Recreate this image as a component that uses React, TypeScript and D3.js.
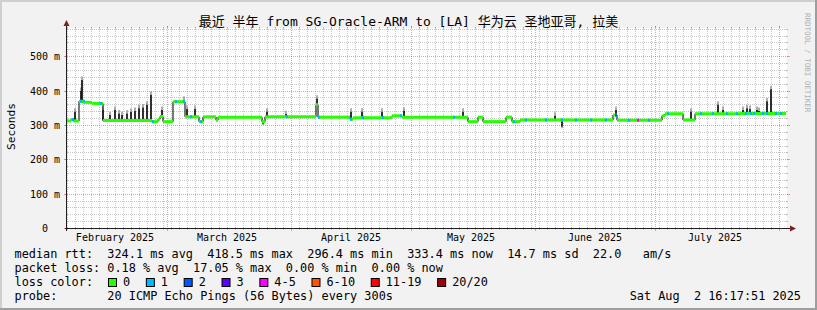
import React from 'react';
import * as d3 from 'd3';

const W = 817;
const H = 310;
const DAY = 86400000;
const START = Date.UTC(2025, 1, 4);
const END = Date.UTC(2025, 7, 3);

const titleText = '最近 半年 from SG-Oracle-ARM to [LA] 华为云 圣地亚哥, 拉美';
const yLabel = 'Seconds';
const watermark = 'RRDTOOL / TOBI OETIKER';

// median rtt (ms) as steps: day offset from START -> value
const segDays = [0, 1, 1.5, 3, 4.25, 6.25, 9, 21.25, 22.75, 23.25, 24, 26.5, 29.5, 33, 34, 37.25, 37.75, 48.75, 49.5, 62.25, 62.75, 70.75, 71.5, 81.25, 83.75, 100.25, 102.75, 104, 109.75, 111.25, 113.25, 136.5, 137.5, 148.75, 149.5, 154, 157, 168.25];
const segValues = [313, 317, 313, 370, 367, 364, 314, 311, 318, 326, 311, 369, 325, 311, 325, 315, 324, 311, 325, 360, 324, 318, 322, 328, 324, 311, 324, 311, 324, 311, 316, 330, 315, 328, 334, 316, 334, 335];
const lastDay = 179.75;

// smoke spikes: day offset -> extreme rtt (ms)
const spikeDays = [2, 3.5, 3.75, 9, 10.75, 12, 13, 13.75, 15, 16, 17, 18, 19, 20, 21, 23.75, 29.25, 30, 32, 49, 50, 54.75, 62.5, 71, 73.75, 78.75, 84.25, 99, 122, 123.75, 137.25, 156, 162.75, 164, 169, 170, 170.75, 172.5, 173, 175, 176];
const spikeTops = [340, 400, 432, 345, 330, 345, 335, 330, 335, 339, 342, 350, 352, 360, 389, 345, 375, 348, 348, 305, 340, 333, 378, 340, 340, 340, 343, 340, 328, 296, 345, 340, 360, 345, 345, 350, 348, 345, 342, 370, 405];

// packet loss occurrences: day offset -> loss color index
const lossDays = [1.25, 3.25, 4, 8.25, 21.25, 27, 29, 30.75, 33.25, 54.75, 62.75, 70.75, 73.75, 78.75, 83.25, 96.5, 111.5, 114.5, 119.5, 123.5, 127, 130.75, 134.5, 137, 140.25, 142.5, 145.25, 150, 158.25, 161.25, 164.75, 167.25, 169.5, 170.75, 171.5, 173.75, 174.75, 177, 178.25];
const lossLevels = [1, 1, 1, 1, 1, 1, 1, 1, 1, 1, 1, 1, 1, 1, 1, 1, 1, 1, 1, 1, 1, 1, 1, 2, 1, 4, 1, 1, 1, 1, 1, 1, 1, 1, 1, 1, 1, 1, 1];

const lossLabels = ['0', '1', '2', '3', '4-5', '6-10', '11-19', '20/20'];
const lossColors = ['#26ff00', '#00b8ff', '#0059ff', '#5e00ff', '#ff00ff', '#ff5500', '#ff0000', '#a00000'];

const yTicks = [0, 100, 200, 300, 400, 500];
const statLines = [
  'median rtt:  324.1 ms avg  418.5 ms max  296.4 ms min  333.4 ms now  14.7 ms sd  22.0   am/s',
  'packet loss: 0.18 % avg  17.05 % max  0.00 % min  0.00 % now',
];
const lossTitle = 'loss color:';
const probeText = 'probe:       20 ICMP Echo Pings (56 Bytes) every 300s';
const dateText = 'Sat Aug  2 16:17:51 2025';

const MONO = '"DejaVu Sans Mono", "Noto Sans CJK SC", monospace';
const PRE: React.CSSProperties = { whiteSpace: 'pre' };

export default function App() {
  const X0 = 67, X1 = 787, Y0 = 228, Y1 = 28;
  const x = d3.scaleUtc().domain([new Date(START), new Date(END)]).range([X0, X1]);
  const y = d3.scaleLinear().domain([0, 582]).range([228.5, 28.5]);
  const xd = (d: number) => x(new Date(START + d * DAY));
  const medianAt = (d: number) => {
    const i = d3.bisectRight(segDays, d) - 1;
    return segValues[Math.max(0, i)];
  };

  const gridColor = 'rgba(143,143,143,0.5)';
  const mgridColor = 'rgba(222,79,79,0.55)';

  const hMinor = d3.range(0, 581, 20).filter((v) => v % 100 !== 0);
  const hMajor = d3.range(0, 581, 100);
  const vMajor = d3.utcMonth.range(new Date(START), new Date(END));
  const majorMs = new Set(vMajor.map((t) => t.getTime()));
  const vMinor = d3.utcDay.range(new Date(START), new Date(END + 1), 2).filter((t) => !majorMs.has(t.getTime()));
  const monthStarts = d3.utcMonth.range(new Date(Date.UTC(2025, 1, 1)), new Date(END));

  const cs = 7.14;
  const lx = 14.5;
  let cursor = 108;
  const boxes = lossLabels.map((lab, i) => {
    const bx = cursor;
    const tx = bx + 15;
    cursor = tx + lab.length * cs + 15.7;
    return { bx, tx, lab, col: lossColors[i] };
  });

  return (
    <div style={{ position: 'absolute', left: 0, top: 0 }}>
      <svg width={W} height={H} style={{ display: 'block' }}>
        <rect x={0} y={0} width={W} height={H} fill="#f2f2f2" />
        <rect x={0} y={0} width={W} height={2} fill="#cfcfcf" />
        <rect x={0} y={0} width={2} height={H} fill="#cfcfcf" />
        <rect x={0} y={H - 2} width={W} height={2} fill="#9e9e9e" />
        <rect x={W - 2} y={0} width={2} height={H} fill="#9e9e9e" />
        <rect x={X0} y={Y1} width={X1 - X0} height={Y0 - Y1 + 1} fill="#ffffff" />

        {vMinor.map((t, i) => {
          const px = Math.round(x(t)) + 0.5;
          if (px < X0 || px > X1) return null;
          return (
            <g key={'vm' + i} stroke={gridColor} strokeWidth={1}>
              <line x1={px} x2={px} y1={Y1 - 1} y2={Y0 + 1} strokeDasharray="1,1" />
              <line x1={px} x2={px} y1={Y0 - 1} y2={Y0 + 2} />
              <line x1={px} x2={px} y1={Y1 - 1} y2={Y1 + 1} />
            </g>
          );
        })}
        {hMinor.map((v) => {
          const py = Math.round(y(v) - 0.5) + 0.5;
          return (
            <g key={'hm' + v} stroke={gridColor} strokeWidth={1}>
              <line x1={X0 - 1} x2={X1 + 1} y1={py} y2={py} strokeDasharray="1,1" />
              <line x1={X0 - 1} x2={X0 + 1} y1={py} y2={py} />
              <line x1={X1 - 1} x2={X1 + 1} y1={py} y2={py} />
            </g>
          );
        })}
        {vMajor.map((t, i) => {
          const px = Math.round(x(t)) + 0.5;
          return (
            <g key={'vM' + i} stroke={mgridColor} strokeWidth={1}>
              <line x1={px} x2={px} y1={Y1 - 2} y2={Y0 + 2} strokeDasharray="1,1" />
              <line x1={px} x2={px} y1={Y0} y2={Y0 + 3} />
              <line x1={px} x2={px} y1={Y1 - 2} y2={Y1} />
            </g>
          );
        })}
        {hMajor.map((v) => {
          const py = Math.round(y(v) - 0.5) + 0.5;
          return (
            <g key={'hM' + v} stroke={mgridColor} strokeWidth={1}>
              {v > 0 && <line x1={X0 - 2} x2={X1 + 2} y1={py} y2={py} strokeDasharray="1,1" />}
              <line x1={X0 - 3} x2={X0} y1={py} y2={py} />
              <line x1={X1} x2={X1 + 3} y1={py} y2={py} />
            </g>
          );
        })}

        {spikeDays.map((d, i) => {
          const px = xd(d);
          const m = medianAt(d);
          const top = spikeTops[i];
          const up = top >= m;
          const halo = up ? top + 10 : top - 4;
          return (
            <g key={'sp' + i}>
              <line x1={px} x2={px} y1={y(top)} y2={y(halo)} stroke="#9a9a9a" strokeWidth={1.6} />
              <line x1={px} x2={px} y1={y(m)} y2={y(top)} stroke="#1a1a1a" strokeWidth={1.8} />
            </g>
          );
        })}

        {segDays.slice(1).map((d, i) => {
          const px = xd(d);
          return (
            <line key={'tr' + i} x1={px} x2={px} y1={y(segValues[i])} y2={y(segValues[i + 1])} stroke="#222" strokeWidth={1.2} />
          );
        })}

        {segDays.map((d, i) => {
          const d2 = i + 1 < segDays.length ? segDays[i + 1] : lastDay;
          const py = y(segValues[i]);
          return (
            <line key={'md' + i} x1={xd(d)} x2={xd(d2)} y1={py} y2={py} stroke={lossColors[0]} strokeWidth={3} />
          );
        })}

        {lossDays.map((d, i) => {
          const py = y(medianAt(d));
          return (
            <line key={'ls' + i} x1={xd(d)} x2={xd(d + 0.5)} y1={py} y2={py} stroke={lossColors[lossLevels[i]]} strokeWidth={3} />
          );
        })}

        <line x1={X0 - 2} x2={X1 + 4} y1={Y0 + 0.5} y2={Y0 + 0.5} stroke="#1f1f1f" strokeWidth={1} />
        <line x1={X0 - 0.5} x2={X0 - 0.5} y1={Y0 + 3} y2={Y1 - 3} stroke="#1f1f1f" strokeWidth={1} />
        <path d={`M${X1 + 3},${Y0 - 2.5} L${X1 + 9},${Y0 + 0.5} L${X1 + 3},${Y0 + 3.5} Z`} fill="#801f1f" />
        <path d={`M${X0 - 3.5},${Y1 - 2} L${X0 - 0.5},${Y1 - 8} L${X0 + 2.5},${Y1 - 2} Z`} fill="#801f1f" />

        {yTicks.map((v) => (
          <g key={'yt' + v} fontFamily={MONO} fontSize={10} fill="#000">
            <text x={48} y={y(v) + 3.6} textAnchor="end">{v}</text>
            {v > 0 && <text x={54} y={y(v) + 3.6}>m</text>}
          </g>
        ))}
        {monthStarts.map((t, i) => {
          const mid = new Date(t.getTime() + 15 * DAY);
          if (mid.getTime() > END) return null;
          return (
            <text key={'mo' + i} x={x(mid)} y={241} textAnchor="middle" fontFamily={MONO} fontSize={10} fill="#000">
              {d3.utcFormat('%B %Y')(t)}
            </text>
          );
        })}

        <text x={408.5} y={26} textAnchor="middle" fontFamily={MONO} fontSize={13} fill="#000" xmlSpace="preserve" style={PRE}>
          {titleText}
        </text>
        <text transform="translate(15,126.5) rotate(-90)" textAnchor="middle" fontFamily={MONO} fontSize={11.2} fill="#000">
          {yLabel}
        </text>
        <text transform="translate(805,13) rotate(90)" fontFamily={MONO} fontSize={7.5} fill="#b0b0b0">
          {watermark}
        </text>

        <g fontFamily={MONO} fontSize={11.86} fill="#000">
          {statLines.map((s, i) => (
            <text key={'st' + i} x={lx} y={258 + i * 14} xmlSpace="preserve" style={PRE}>{s}</text>
          ))}
          <text x={lx} y={286} xmlSpace="preserve" style={PRE}>{lossTitle}</text>
          {boxes.map((b, i) => (
            <g key={'bx' + i}>
              <rect x={b.bx + 0.5} y={278.5} width={8} height={8} fill={b.col} stroke="#000" strokeWidth={1} />
              <text x={b.tx} y={286}>{b.lab}</text>
            </g>
          ))}
          <text x={lx} y={300} xmlSpace="preserve" style={PRE}>{probeText}</text>
          <text x={801} y={300} textAnchor="end" xmlSpace="preserve" style={PRE}>{dateText}</text>
        </g>
      </svg>
    </div>
  );
}
